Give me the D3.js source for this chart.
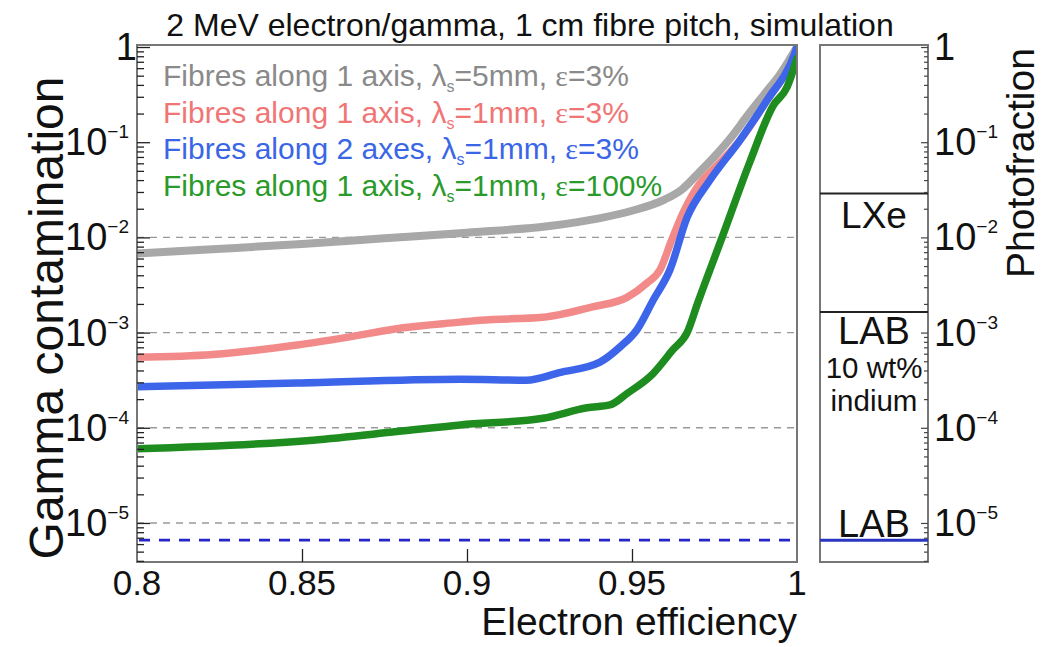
<!DOCTYPE html>
<html><head><meta charset="utf-8">
<script src="https://cdn.jsdelivr.net/npm/d3@7"></script>
<style>body{margin:0;background:#fff}svg{display:block;font-family:"Liberation Sans",Arial,sans-serif}</style>
</head><body>
<svg id="c" width="1043" height="647"></svg>
<script>
// ---- data (y as log10 of gamma contamination) ----
const effGray = [0.80,0.82,0.85,0.875,0.90,0.925,0.94,0.95,0.96,0.965,0.97,0.975,0.98,0.985,0.99,0.995,1.0];
const logGray = [-2.17,-2.13,-2.07,-2.01,-1.95,-1.88,-1.80,-1.72,-1.60,-1.50,-1.33,-1.15,-0.95,-0.72,-0.50,-0.28,0.0];
const effRed = [0.80,0.823,0.8485,0.8636,0.8806,0.898,0.904,0.923,0.938,0.9485,0.9545,0.9585,0.962,0.9655,0.9706,0.9745,0.9827,0.9909,0.9994,1.0];
const logRed = [-3.26,-3.23,-3.13,-3.05,-2.95,-2.89,-2.87,-2.84,-2.73,-2.63,-2.48,-2.34,-2.03,-1.74,-1.43,-1.29,-0.98,-0.56,-0.06,0.0];
const effBlue = [0.80,0.8485,0.898,0.918,0.928,0.9403,0.9464,0.9515,0.9564,0.9615,0.9667,0.9736,0.9827,0.9909,0.9994,1.0];
const logBlue = [-3.57,-3.53,-3.49,-3.50,-3.42,-3.31,-3.15,-2.97,-2.66,-2.34,-1.79,-1.40,-0.98,-0.56,-0.06,0.0];
const effGreen = [0.80,0.8533,0.8788,0.898,0.923,0.9364,0.9433,0.9485,0.9564,0.9624,0.9667,0.970,0.9773,0.9858,0.9927,0.997,1.0];
const logGreen = [-4.22,-4.13,-4.04,-3.97,-3.90,-3.79,-3.76,-3.64,-3.43,-3.18,-3.00,-2.68,-2.00,-1.20,-0.62,-0.42,-0.12];
const labDashed = 6.6e-6;
const lxeBoundary = 0.029;
const labInBoundary = 1.65e-3;
const xTicks = [0.8,0.85,0.9,0.95,1];
const xTickLabels = ["0.8","0.85","0.9","0.95","1"];
const yDecades = [0,-1,-2,-3,-4,-5];
const gridDecades = [-2,-3,-4,-5];
const legendLabels = [
  ["Fibres along 1 axis, λ","s","=5mm, ","ε","=3%"],
  ["Fibres along 1 axis, λ","s","=1mm, ","ε","=3%"],
  ["Fibres along 2 axes, λ","s","=1mm, ","ε","=3%"],
  ["Fibres along 1 axis, λ","s","=1mm, ","ε","=100%"]
];
const panelLabels = ["LXe","LAB","10 wt%","indium","LAB"];
const lineColors = ["#a8a8a8","#f28a8a","#3d65ea","#1e8c1e"];
const textColors = ["#8a8a8a","#f07676","#3a66e6","#2a9a2a"];

const svg = d3.select("#c");
const L=137, R=797, T=45, B=562;
const x = d3.scaleLinear().domain([0.8,1]).range([L,R]);
const y = d3.scaleLog().domain([Math.pow(10,-5.41),1.05]).range([B,T]);

// title
svg.append("text").attr("x",530).attr("y",36).attr("text-anchor","middle")
  .attr("font-size",32).attr("fill","#111").text("2 MeV electron/gamma, 1 cm fibre pitch, simulation");

// clip
svg.append("clipPath").attr("id","clp").append("rect").attr("x",L).attr("y",T).attr("width",R-L).attr("height",B-T);

// grid dashed lines
svg.append("g").selectAll("line").data(gridDecades).join("line")
  .attr("x1",L).attr("x2",R).attr("y1",d=>y(Math.pow(10,d))).attr("y2",d=>y(Math.pow(10,d)))
  .attr("stroke","#999").attr("stroke-width",1.4).attr("stroke-dasharray","7,6");

// LAB dashed line
svg.append("line").attr("x1",L+2).attr("x2",R).attr("y1",y(labDashed)).attr("y2",y(labDashed))
  .attr("stroke","#2525c8").attr("stroke-width",2.6).attr("stroke-dasharray","11,9");

// curves
const series = [[effGray,logGray],[effRed,logRed],[effBlue,logBlue],[effGreen,logGreen]];
const line = d3.line().x(d=>x(d[0])).y(d=>y(Math.pow(10,d[1]))).curve(d3.curveMonotoneX);
const gC = svg.append("g").attr("clip-path","url(#clp)");
series.forEach((s,i)=>{
  const pts = s[0].map((e,k)=>[e,s[1][k]]);
  gC.append("path").attr("d",line(pts)).attr("fill","none").attr("stroke",lineColors[i])
    .attr("stroke-width", i===0?8:7.5).attr("stroke-linejoin","round").attr("stroke-linecap","round");
});

// frame main
svg.append("rect").attr("x",L).attr("y",T).attr("width",R-L).attr("height",B-T)
  .attr("fill","none").attr("stroke","#777").attr("stroke-width",2);

// y axis (left), ticks inside
const minor = [];
for (let d=-6; d<=0; d++) for (let m=1; m<10; m++){ const v=m*Math.pow(10,d); if (v>=y.domain()[0] && v<=y.domain()[1]) minor.push({v, major:m===1}); }
const yAxisL = d3.axisRight(y).tickValues(minor.map(d=>d.v)).tickFormat("").tickSizeOuter(0).tickSize(7);
const gL = svg.append("g").attr("transform",`translate(${L},0)`).call(yAxisL);
gL.select(".domain").remove();
gL.selectAll(".tick line").attr("stroke","#222").attr("stroke-width",1.3)
  .attr("x2",(d,i)=>minor[i].major?13:7);

// tick labels with exponents
function expLabel(g, d, xPos, anchor){
  const t = g.append("text").attr("x",xPos).attr("y",y(Math.pow(10,d))+13).attr("font-size",38).attr("text-anchor",anchor).attr("fill","#111");
  if (d===0){ t.text("1"); }
  else { t.append("tspan").text("10"); t.append("tspan").attr("font-size",19).attr("dy",-17).text("−"+(-d)); }
}
const gLL = svg.append("g");
yDecades.forEach(d=>expLabel(gLL,d,d===0?137:129,"end"));

// x axis
const xAxis = d3.axisTop(x).tickValues(xTicks.slice(1,4)).tickFormat("").tickSize(13).tickSizeOuter(0);
const gX = svg.append("g").attr("transform",`translate(0,${B})`).call(xAxis);
gX.select(".domain").remove();
gX.selectAll(".tick line").attr("stroke","#222").attr("stroke-width",1.3);
svg.append("g").selectAll("text").data(xTicks).join("text")
  .attr("x",d=>x(d)).attr("y",595).attr("text-anchor","middle").attr("font-size",35).attr("fill","#111")
  .text((d,i)=>xTickLabels[i]);

// axis titles
svg.append("text").attr("x",797).attr("y",635).attr("text-anchor","end").attr("font-size",39).attr("fill","#111").text("Electron efficiency");
svg.append("text").attr("transform","translate(63,318) rotate(-90)").attr("text-anchor","middle").attr("font-size",48).attr("fill","#111").text("Gamma contamination");

// legend
const gLeg = svg.append("g");
legendLabels.forEach((parts,i)=>{
  const t = gLeg.append("text").attr("x",163).attr("y",86+i*36.6).attr("font-size",30).attr("fill",textColors[i]);
  t.append("tspan").text(parts[0]);
  t.append("tspan").attr("font-size",16).attr("dy",6).text(parts[1]);
  t.append("tspan").attr("dy",-6).text(parts[2]);
  t.append("tspan").attr("font-family","Liberation Serif").text(parts[3]);
  t.append("tspan").text(parts[4]);
});

// right panel
const PL=820, PR=928;
svg.append("rect").attr("x",PL).attr("y",T).attr("width",PR-PL).attr("height",B-T)
  .attr("fill","none").attr("stroke","#777").attr("stroke-width",2);
[lxeBoundary, labInBoundary].forEach(v=>{
  svg.append("line").attr("x1",PL).attr("x2",PR).attr("y1",y(v)).attr("y2",y(v)).attr("stroke","#222").attr("stroke-width",2);
});
svg.append("line").attr("x1",PL).attr("x2",PR).attr("y1",y(labDashed)).attr("y2",y(labDashed)).attr("stroke","#2a35c0").attr("stroke-width",3);
const yAxisR = d3.axisLeft(y).tickValues(minor.map(d=>d.v)).tickFormat("").tickSize(4).tickSizeOuter(0);
const gR = svg.append("g").attr("transform",`translate(${PR},0)`).call(yAxisR);
gR.select(".domain").remove();
gR.selectAll(".tick line").attr("stroke","#444").attr("stroke-width",1.2).attr("x2",(d,i)=>minor[i].major?-7:-4);
const gRL = svg.append("g");
yDecades.forEach(d=>expLabel(gRL,d,934,"start"));
const panelY = [228,344,378,411,537];
const panelSize = [37,38,29.5,29.5,38];
panelLabels.forEach((p,i)=>{
  svg.append("text").attr("x",874).attr("y",panelY[i]).attr("text-anchor","middle")
    .attr("font-size",panelSize[i]).attr("fill","#111").text(p);
});
svg.append("text").attr("transform","translate(1034,163) rotate(-90)").attr("text-anchor","middle").attr("font-size",39).attr("fill","#111").text("Photofraction");
</script>
</body></html>
